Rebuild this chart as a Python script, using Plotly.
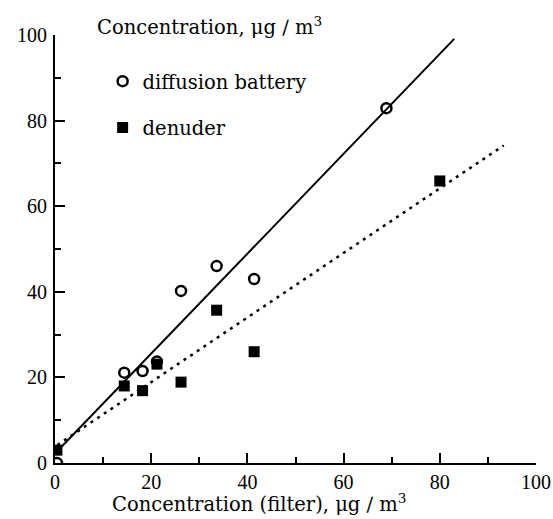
import plotly.graph_objects as go

# Data
filter_x = [0.4, 14.4, 18.2, 21.2, 26.2, 33.6, 41.4]
battery_x = filter_x + [68.9]
battery_y = [0.0, 21.1, 21.5, 23.7, 40.2, 46.0, 43.0, 82.9]
denuder_x = filter_x + [80.0]
denuder_y = [3.0, 18.0, 16.9, 23.1, 18.9, 35.7, 26.0, 65.9]

# Regression lines (endpoints)
fit_battery_x = [0.5, 83.0]
fit_battery_y = [2.8, 99.1]
fit_denuder_x = [0.5, 93.3]
fit_denuder_y = [4.2, 74.2]

FONT = "DejaVu Serif"
TICKFONT = "Liberation Serif"
TXT = 19.5

fig = go.Figure()
fig.add_trace(go.Scatter(x=fit_battery_x, y=fit_battery_y, mode="lines",
                         line=dict(color="black", width=2), showlegend=False,
                         hoverinfo="skip"))
fig.add_trace(go.Scatter(x=fit_denuder_x, y=fit_denuder_y, mode="lines",
                         line=dict(color="black", width=2.5, dash="3px,5px"),
                         showlegend=False, hoverinfo="skip"))
fig.add_trace(go.Scatter(x=battery_x, y=battery_y, mode="markers",
                         name="diffusion battery", legendgroup="a",
                         marker=dict(symbol="circle-open", size=10, color="black",
                                     line=dict(width=2.5, color="black"))))
fig.add_trace(go.Scatter(x=denuder_x, y=denuder_y, mode="markers",
                         name="denuder", legendgroup="b",
                         marker=dict(symbol="square", size=11, color="black")))

axis_common = dict(
    range=[0, 100], dtick=20, ticks="inside", ticklen=10, tickwidth=2,
    tickcolor="black", showline=True, linecolor="black", linewidth=2,
    showgrid=False, zeroline=False, mirror=False, automargin=False,
    tickfont=dict(family=TICKFONT, size=20, color="black"),
    minor=dict(dtick=10, ticks="inside", ticklen=6, tickwidth=2, tickcolor="black",
               showgrid=False),
)

fig.update_layout(
    width=553, height=519,
    margin=dict(l=55, r=17, t=35, b=56, autoexpand=False),
    paper_bgcolor="white", plot_bgcolor="white",
    font=dict(family=FONT, size=TXT, color="black"),
    xaxis=dict(**axis_common),
    yaxis=dict(**axis_common, ticklabelstandoff=2),
    showlegend=True,
    legend=dict(x=0.099, y=0.937, xanchor="left", yanchor="top",
                bgcolor="rgba(0,0,0,0)", font=dict(family=FONT, size=TXT),
                traceorder="grouped", tracegroupgap=18),
    annotations=[
        dict(text="Concentration, μg ∕ m<sup>3</sup>", xref="paper", yref="paper",
             x=0.083, y=1, xanchor="left", yanchor="middle", yshift=9,
             showarrow=False, font=dict(family=FONT, size=TXT)),
        dict(text="Concentration (filter), μg ∕ m<sup>3</sup>", xref="paper", yref="paper",
             x=0.424, y=0, xanchor="center", yanchor="middle", yshift=-40,
             showarrow=False, font=dict(family=FONT, size=TXT)),
    ],
)

fig.write_html("out.html",
               config={"displayModeBar": False},
               post_script="document.body.style.margin='0';document.body.style.overflow='hidden';")
